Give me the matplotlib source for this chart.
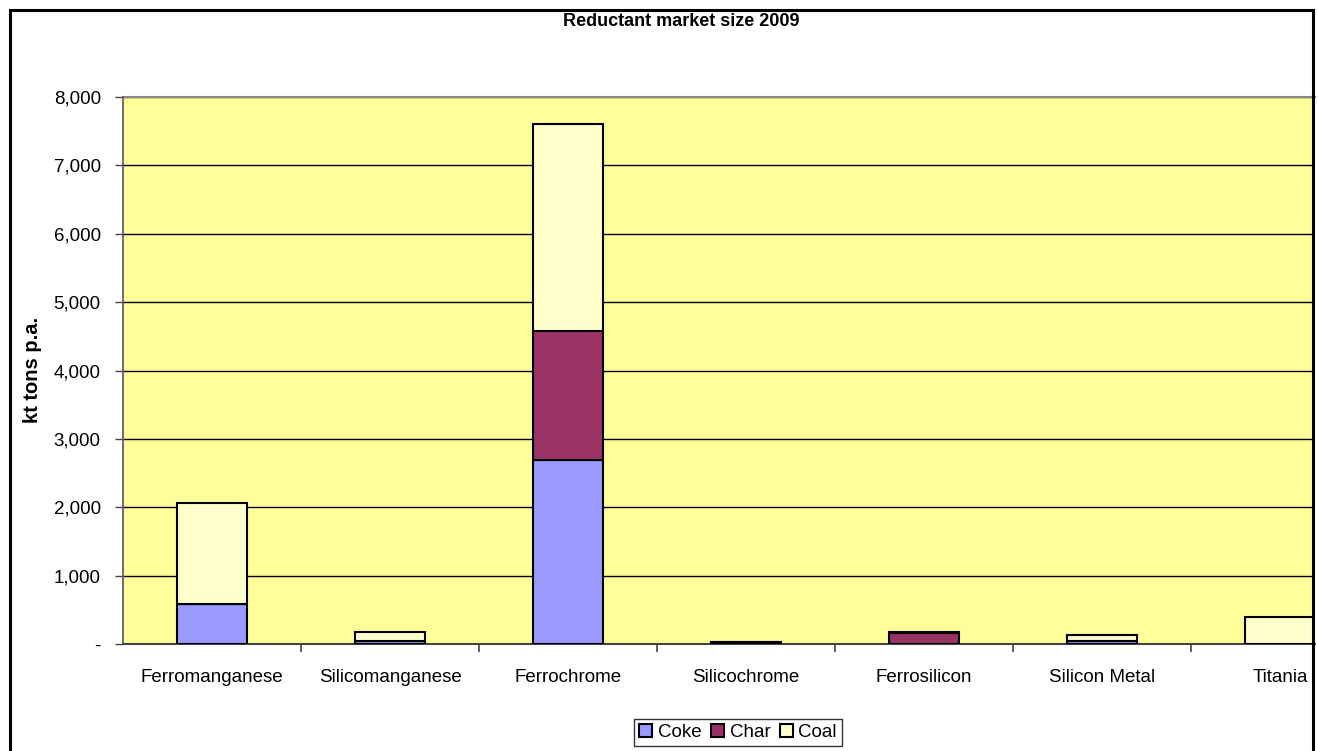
import matplotlib
matplotlib.use("Agg")
import matplotlib.pyplot as plt
from matplotlib.patches import Rectangle
from matplotlib.ticker import FuncFormatter, MultipleLocator
import numpy as np

plt.rcParams['font.family'] = ['Liberation Sans', 'DejaVu Sans']

# Reductant consumption by alloy, kt per annum (2009)
categories = ["Ferromanganese", "Silicomanganese", "Ferrochrome", "Silicochrome",
              "Ferrosilicon", "Silicon Metal", "Titania"]
coke = [590, 50, 2690, 0, 0, 45, 0]
char = [0, 0, 1890, 25, 162, 0, 0]
coal = [1470, 125, 3020, 0, 12, 80, 390]

series_names = ["Coke", "Char", "Coal"]
series_colors = ["#9999FF", "#993366", "#FFFFCC"]

W, H = 1318, 751
fig = plt.figure(figsize=(W / 100, H / 100), dpi=100)
fig.patch.set_facecolor("white")

ax_l, ax_r, ax_t, ax_b = 123, 1315, 97, 644
ax = fig.add_axes([ax_l / W, 1 - ax_b / H, (ax_r - ax_l) / W, (ax_b - ax_t) / H])
ax.set_facecolor("#FFFF99")

x = np.arange(len(categories))
bottom = np.zeros(len(categories))
for name, vals, col in zip(series_names, [coke, char, coal], series_colors):
    vals = np.array(vals, dtype=float)
    ax.bar(x, vals, width=0.39, bottom=bottom, color=col, edgecolor="black",
           linewidth=1.5, label=name, zorder=3)
    bottom += vals

ax.yaxis.set_major_locator(MultipleLocator(1000))
ax.yaxis.set_major_formatter(FuncFormatter(lambda v, p: "-" if v == 0 else f"{v:,.0f}"))
ax.grid(axis="y", color="black", linewidth=1.0, zorder=1)
ax.set_axisbelow(True)

ax.set_xticks(x)
ax.set_xticklabels(categories)
ax.set_xticks(np.arange(len(categories)) + 0.5, minor=True)
ax.tick_params(axis="x", which="major", length=0, pad=18, labelsize=13.5)
ax.tick_params(axis="x", which="minor", length=6, width=1.2, color="#444444")
ax.tick_params(axis="y", length=6, width=1.0, color="#444444", pad=10, labelsize=13.5)

# the last category runs off the right edge of the chart frame
ax.set_ylim(0, 8000)
ax.set_xlim(-0.5, (ax_r - ax_l) / 178.0 - 0.5)

for side in ["top", "right"]:
    ax.spines[side].set_visible(False)
ax.spines["left"].set_color("#555555")
ax.spines["left"].set_linewidth(1.2)
ax.spines["bottom"].set_color("#444444")
ax.spines["bottom"].set_linewidth(1.5)
ax.axhline(8000, color="#888888", linewidth=1.5, zorder=2, clip_on=False)

fig.text(681 / W, 1 - 21 / H, "Reductant market size 2009", ha="center", va="center",
         fontsize=13, fontweight="bold")
fig.text(33 / W, 1 - 370 / H, "kt tons p.a.", ha="center", va="center",
         rotation=90, fontsize=14.5, fontweight="bold")

leg = fig.legend(loc="upper center", bbox_to_anchor=(738 / W, 1 - 719 / H), ncol=3,
                 fontsize=13.5, frameon=True, fancybox=False, handlelength=0.7,
                 handleheight=0.7, handletextpad=0.3, columnspacing=0.5,
                 borderpad=0.25, borderaxespad=0)
leg.get_frame().set_edgecolor("black")
leg.get_frame().set_linewidth(1.0)

# chart frame
fig.patches.append(Rectangle((10 / W, -0.05), (1313 - 10) / W, 1 - 10 / H + 0.05,
                             transform=fig.transFigure, fill=False,
                             edgecolor="black", linewidth=2.2, zorder=10))

fig.savefig("out.png", dpi=100)
